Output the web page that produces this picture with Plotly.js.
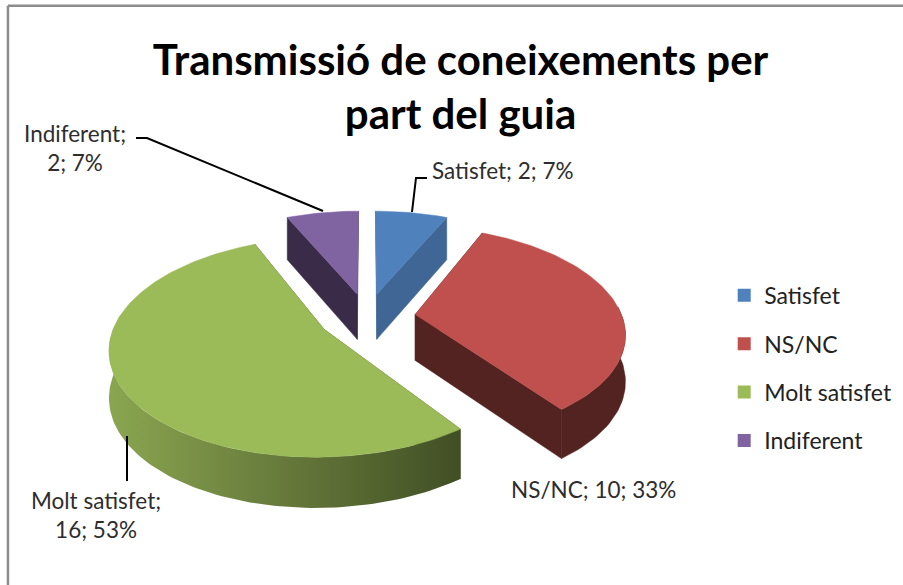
<!DOCTYPE html>
<html>
<head>
<meta charset="utf-8">
<script src="https://cdn.plot.ly/plotly-3.0.1.min.js"></script>
<style>html,body{margin:0;padding:0;background:#fff}#c{width:903px;height:585px}</style>
</head>
<body>
<div id="c"></div>
<script>
const categories = ["Satisfet", "NS/NC", "Molt satisfet", "Indiferent"];
const values = [2, 10, 16, 2];
const topColors = ["#4f81bd", "#c0504d", "#9bbb59", "#8064a2"];
const wallColors = ["#3f6694", "#522320", "#44552a", "#3a2c48"];
const drawOrder = [3, 0, 1, 2];

const FONT = "Lato, Carlito, Calibri, sans-serif";
const cx = 367, cy = 317, Rx = 207, Ry = 103, depth = 46, persp = 0.16, pull = 0.235;
const total = values.reduce((a, b) => a + b, 0);

function project(X, Y, drop) {
  const w = 1 + persp * Y;
  return [cx + Rx * X / w, cy - Ry * Y / w + drop * depth / Math.sqrt(w)];
}

let acc = 0;
const slices = values.map((v, i) => {
  const a0 = acc / total * 2 * Math.PI;
  acc += v;
  const a1 = acc / total * 2 * Math.PI;
  const m = (a0 + a1) / 2;
  return { i, a0, a1, ox: pull * Math.sin(m), oy: pull * Math.cos(m) };
});

function rim(s, a, drop) {
  return project(s.ox + Math.sin(a), s.oy + Math.cos(a), drop);
}
function poly(pts) {
  const xs = pts.map(p => p[0]), ys = pts.map(p => p[1]);
  xs.push(xs[0]); ys.push(ys[0]);
  return { x: xs, y: ys };
}
function arcPts(s, a0, a1, drop) {
  const n = Math.max(2, Math.ceil((a1 - a0) * 40));
  const out = [];
  for (let k = 0; k <= n; k++) out.push(rim(s, a0 + (a1 - a0) * k / n, drop));
  return out;
}
function area(pts, color, extra) {
  return Object.assign({
    type: "scatter", mode: "lines", fill: "toself", fillcolor: color,
    line: { width: 0.5, color: color }, showlegend: false, hoverinfo: "skip"
  }, poly(pts), extra || {});
}

const traces = [];
drawOrder.forEach(idx => {
  const s = slices[idx];
  const c0 = project(s.ox, s.oy, 0), c1 = project(s.ox, s.oy, 1);
  const wc = wallColors[idx];
  [s.a0, s.a1].forEach(a => {
    traces.push(area([c0, rim(s, a, 0), rim(s, a, 1), c1], wc));
  });
  const frontStart = Math.max(s.a0, 1.5), frontEnd = Math.min(s.a1, 4.85);
  if (frontEnd > frontStart) {
    const upper = arcPts(s, frontStart, frontEnd, 0);
    const lower = arcPts(s, frontStart, frontEnd, 1).reverse();
    const extra = idx === 2 ? {
      line: { width: 0, color: wc },
      fillgradient: { type: "horizontal", colorscale: [[0, "#8aa650"], [0.5, "#66793b"], [1, "#414f24"]] }
    } : {};
    traces.push(area(upper.concat(lower), wc, extra));
  }
  traces.push(area([c0].concat(arcPts(s, s.a0, s.a1, 0)), topColors[idx]));
});

// leader lines
const leaders = [
  [[136, 138], [147, 138], [323, 211]],
  [[427, 178], [416, 178], [412, 212]],
  [[127, 436], [127, 481]]
];
leaders.forEach(l => traces.push({
  type: "scatter", mode: "lines", x: l.map(p => p[0]), y: l.map(p => p[1]),
  line: { color: "#000", width: 2 }, showlegend: false, hoverinfo: "skip"
}));

// legend entries
categories.forEach((name, i) => traces.push({
  type: "scatter", mode: "markers", name, x: [null], y: [null], legendgroup: name,
  marker: { symbol: "square", size: 13, color: topColors[i] }, hoverinfo: "skip"
}));

const pct = i => Math.round(values[i] / total * 100) + "%";
function label(lines, x, y) {
  return {
    xref: "x", yref: "y", x, y, text: lines, showarrow: false, align: "center",
    xanchor: "center", yanchor: "middle", font: { family: FONT, size: 22.5, color: "#2d2d2d" }
  };
}
const annotations = [
  label(`${categories[0]}; ${values[0]}; ${pct(0)}`, 503, 170),
  label(`${categories[1]}; ${values[1]}; ${pct(1)}`, 593, 489),
  label(`${categories[2]};<br>${values[2]}; ${pct(2)}`, 96, 515),
  label(`${categories[3]};<br>${values[3]}; ${pct(3)}`, 75, 148)
];

const layout = {
  width: 903, height: 585,
  margin: { l: 0, r: 0, t: 0, b: 0 },
  paper_bgcolor: "#fff", plot_bgcolor: "#fff",
  xaxis: { range: [0, 903], visible: false, fixedrange: true },
  yaxis: { range: [585, 0], visible: false, fixedrange: true },
  title: {
    text: "Transmissió de coneixements per<br>part del guia",
    x: 0.51, xanchor: "center", y: 0.8726, yanchor: "middle",
    font: { family: FONT, size: 42, color: "#000", weight: "bold" }
  },
  legend: {
    x: 0.802, y: 0.532, xanchor: "left", yanchor: "top",
    font: { family: FONT, size: 23, color: "#222" },
    tracegroupgap: 15.5, itemwidth: 30, bgcolor: "rgba(0,0,0,0)", traceorder: "grouped"
  },
  showlegend: true,
  annotations,
  shapes: [
    { type: "line", xref: "paper", yref: "paper", x0: 0.0088, x1: 0.0088, y0: 0, y1: 0.99, line: { color: "#8c8c8c", width: 2.5 } },
    { type: "line", xref: "paper", yref: "paper", x0: 0.0088, x1: 1, y0: 0.99, y1: 0.99, line: { color: "#8c8c8c", width: 2.5 } }
  ]
};
Plotly.newPlot("c", traces, layout, { displayModeBar: false, staticPlot: true });
</script>
</body>
</html>
